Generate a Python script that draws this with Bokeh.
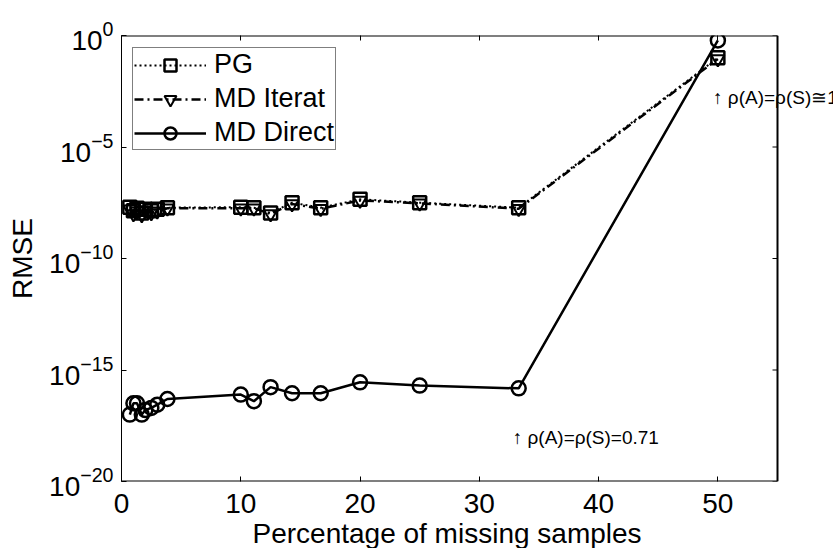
import math
from bokeh.plotting import figure
from bokeh.models import (Range1d, FixedTicker, LinearAxis, Legend, LegendItem, Label, Title)
from bokeh.embed import file_html
from bokeh.resources import INLINE

# ---- data ----
pct_missing = [0.7, 1.0, 1.3, 1.7, 2.0, 2.5, 3.0, 3.85, 10, 11.1, 12.5, 14.3, 16.7, 20, 25, 33.3, 50]
rmse_pg = [2.0e-8, 1.4e-8, 1.8e-8, 1.1e-8, 1.6e-8, 1.4e-8, 1.6e-8, 1.9e-8, 2.0e-8, 1.9e-8,
           1.1e-8, 3.2e-8, 1.9e-8, 4.5e-8, 3.2e-8, 1.9e-8, 0.1]
rmse_md_iterat = [1.6e-8, 1.0e-8, 1.3e-8, 8.9e-9, 1.4e-8, 1.1e-8, 1.3e-8, 1.8e-8, 1.8e-8, 1.8e-8,
                  1.0e-8, 2.8e-8, 1.7e-8, 4.0e-8, 3.0e-8, 1.7e-8, 0.089]
rmse_md_direct = [1.0e-17, 3.2e-17, 3.2e-17, 1.0e-17, 1.6e-17, 2.0e-17, 2.8e-17, 5.0e-17, 7.9e-17,
                  4.0e-17, 1.7e-16, 9.1e-17, 9.1e-17, 2.8e-16, 2.0e-16, 1.5e-16, 0.6]
x_ticks = [0, 10, 20, 30, 40, 50]
y_ticks = [1e-20, 1e-15, 1e-10, 1e-5, 1e0]
series_names = ["PG", "MD Iterat", "MD Direct"]
x_title = "Percentage of missing samples"
y_title = "RMSE"
annot_low = "\u2191 \u03c1(A)=\u03c1(S)=0.71"
annot_high = "\u2191 \u03c1(A)=\u03c1(S)\u22451"

# axes box limits
X_MIN, X_MAX = 0, 55
Y_MIN, Y_MAX = 1e-20, 1e0

FONT = "Liberation Sans"
LEFT, RIGHT_EDGE, TOP, BOTTOM = 121, 777, 35, 67
W, H = 833, 548
# the frame reaches the page edge so the right-hand note is not clipped at the box
x_view_max = X_MAX * (W - LEFT) / (RIGHT_EDGE - LEFT)

p = figure(width=W, height=H, output_backend="svg", toolbar_location=None,
           y_axis_type="log", x_range=Range1d(X_MIN, x_view_max), y_range=Range1d(Y_MIN, Y_MAX),
           min_border_left=LEFT, min_border_right=0, min_border_top=TOP, min_border_bottom=BOTTOM)
p.background_fill_color = "white"
p.border_fill_color = "white"
p.outline_line_color = None
p.xgrid.visible = False
p.ygrid.visible = False

def style_axis(ax, show_labels=True):
    ax.axis_line_color = "black"
    ax.major_tick_line_color = "black"
    ax.major_tick_in = 5
    ax.major_tick_out = 0
    ax.minor_tick_line_color = None
    ax.major_label_text_font = FONT
    ax.major_label_text_color = "black"
    if show_labels:
        ax.major_label_text_font_size = "28px"
    else:
        ax.major_label_text_font_size = "6px"
        ax.major_label_text_alpha = 0
    ax.axis_label_text_font = FONT
    ax.axis_label_text_font_style = "normal"
    ax.axis_label_text_font_size = "28px"
    ax.axis_label_text_color = "black"

xa = p.xaxis[0]
xa.ticker = FixedTicker(ticks=x_ticks)
style_axis(xa)
xa.axis_line_color = None
xa.major_label_standoff = 12

# x-axis title, centred under the axes box (not under the wider frame)
xt = Title(text=x_title, align="left", offset=131, standoff=0, text_font=FONT,
           text_font_size="28px", text_font_style="normal", text_color="black")
p.add_layout(xt, "below")

ya = p.yaxis[0]
ya.ticker = FixedTicker(ticks=y_ticks)
ya.axis_label = y_title
style_axis(ya)
ya.major_label_standoff = 8
ya.axis_label_standoff = 8

top = LinearAxis(ticker=FixedTicker(ticks=x_ticks))
style_axis(top, show_labels=False)
top.axis_line_color = None
p.add_layout(top, "above")

# box edges (bottom, top, right) and right-hand ticks
p.segment(x0=[X_MIN, X_MIN, X_MAX], y0=[Y_MIN, Y_MAX, Y_MIN],
          x1=[X_MAX, X_MAX, X_MAX], y1=[Y_MIN, Y_MAX, Y_MAX], line_color="black", line_width=2)
p.ray(x=[X_MAX] * len(y_ticks), y=y_ticks, length=5, length_units="screen", angle=math.pi,
      line_color="black", line_width=1)

r_pg_l = p.line(pct_missing, rmse_pg, line_color="black", line_width=2, line_dash="2 3")
r_pg_m = p.scatter(pct_missing, rmse_pg, marker="square", size=13, fill_color=None,
                   line_color="black", line_width=2.5)
r_it_l = p.line(pct_missing, rmse_md_iterat, line_color="black", line_width=2.5, line_dash="9 4 2 4")
r_it_m = p.scatter(pct_missing, rmse_md_iterat, marker="inverted_triangle", size=13, fill_color=None,
                   line_color="black", line_width=2)
r_di_l = p.line(pct_missing, rmse_md_direct, line_color="black", line_width=2.5)
r_di_m = p.scatter(pct_missing, rmse_md_direct, marker="circle", size=14, fill_color=None,
                   line_color="black", line_width=2.5)

legend = Legend(items=[LegendItem(label=series_names[0], renderers=[r_pg_l, r_pg_m]),
                       LegendItem(label=series_names[1], renderers=[r_it_l, r_it_m]),
                       LegendItem(label=series_names[2], renderers=[r_di_l, r_di_m])],
                location=(11, 331))
legend.label_text_font = FONT
legend.label_text_font_size = "27px"
legend.label_text_color = "black"
legend.border_line_color = "black"
legend.border_line_width = 1
legend.background_fill_color = "white"
legend.background_fill_alpha = 1
legend.padding = 1
legend.spacing = 3
legend.margin = 0
legend.glyph_width = 72
legend.glyph_height = 30
legend.label_height = 30
legend.label_standoff = 8
p.add_layout(legend, "center")

lab1 = Label(x=32.8, y=10 ** -18.03, text=annot_low, text_font=FONT, text_font_size="19px",
             text_color="black", text_baseline="alphabetic")
lab2 = Label(x=49.6, y=10 ** -2.8, text=annot_high, text_font=FONT, text_font_size="19px",
             text_color="black", text_baseline="alphabetic")
p.add_layout(lab1)
p.add_layout(lab2)

open("out.html", "w").write(file_html(p, INLINE))
